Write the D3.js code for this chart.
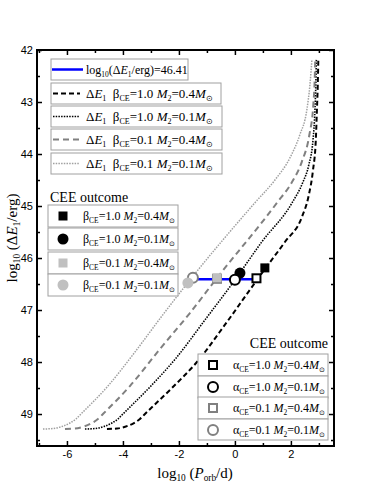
<!DOCTYPE html>
<html>
<head>
<meta charset="utf-8">
<script src="https://cdn.jsdelivr.net/npm/d3@7"></script>
<style>
	body { margin: 0; background: #fff; }
	svg text { font-family: "Liberation Serif", "Times New Roman", serif; white-space: pre; }
	.tick text { font-family: "Liberation Sans", Arial, sans-serif; }
</style>
</head>
<body>
<div id="svg-container"></div>
<script>
// DATA
// curves: [log10(Porb/d), log10(dE1/erg)]
const curveB10M04 = [[-4.571,49.288],[-4.214,49.279],[-3.893,49.24],[-3.607,49.173],[-3.393,49.096],[-3.214,49.0],[-2.25,48.5],[-1.357,48.0],[-0.286,47.231],[0.786,46.423],[1.071,46.212],[1.786,45.692],[2.393,45.212],[2.64,44.79],[2.79,44.31],[2.89,43.73],[2.93,43.15],[2.96,42.67],[2.98,42.19]];
const curveB10M01 = [[-5.357,49.288],[-5.0,49.279],[-4.679,49.24],[-4.393,49.173],[-4.179,49.096],[-4.0,49.0],[-3.036,48.481],[-2.071,47.904],[-1.071,47.192],[0.0,46.423],[0.96,45.69],[2.04,44.94],[2.43,44.54],[2.64,44.21],[2.79,43.73],[2.86,43.15],[2.89,42.67],[2.91,42.19]];
const curveB01M04 = [[-6.071,49.288],[-5.714,49.279],[-5.393,49.24],[-5.107,49.173],[-4.893,49.096],[-4.714,49.0],[-3.75,48.462],[-2.679,47.75],[-1.607,47.058],[-0.643,46.385],[1.5,44.94],[2.04,44.54],[2.39,44.15],[2.66,43.63],[2.8,43.06],[2.85,42.58],[2.87,42.19]];
const curveB01M01 = [[-6.857,49.288],[-6.5,49.279],[-6.179,49.24],[-5.893,49.173],[-5.679,49.096],[-5.5,49.0],[-4.536,48.462],[-3.571,47.808],[-2.607,47.115],[-1.607,46.423],[0.71,44.94],[1.43,44.5],[1.96,44.08],[2.32,43.63],[2.57,43.15],[2.68,42.67],[2.75,42.19]];

// outcome markers
const betaX = [1.07, 0.18, -0.64, -1.68];
const betaY = [46.19, 46.29, 46.38, 46.48];
const alphaX = [0.77, 0.0, -0.64, -1.5];
const alphaY = [46.39, 46.42, 46.4, 46.38];

// blue line log10(dE1/erg)=46.41
const blueLevel = 46.41;
const blueFrom = -1.5;
const blueTo = 0.77;

const xMajor = [-6, -4, -2, 0, 2];
const xMinor = [-7, -5, -3, -1, 1, 3];
const yMajor = [42, 43, 44, 45, 46, 47, 48, 49];
const yMinor = [42.5, 43.5, 44.5, 45.5, 46.5, 47.5, 48.5, 49.5];

const massLabels = ["0.4", "0.1", "0.4", "0.1"];
const ceLabels = ["1.0", "1.0", "0.1", "0.1"];


// GRAPH
function graphData() {
	const w = 372;
	const h = 496;
	const left = 37, right = 334, top = 50, bottom = 446;

	const xScale = d3.scaleLinear().domain([-7.07, 3.54]).range([left, right]);
	const yScale = d3.scaleLinear().domain([42, 49.615]).range([top, bottom]);

	const svg = d3.select("#svg-container").append("svg")
		.attr("width", w).attr("height", h);

	// rich text helper: segments [text, kind] kind: n, i, s
	function rich(sel, segs, size) {
		let sub = false;
		segs.forEach(([t, k]) => {
			const ts = sel.append("tspan").text(t);
			if (k === "i") ts.attr("font-style", "italic");
			if (k === "s") {
				ts.attr("font-size", size * 0.62);
				if (!sub) ts.attr("dy", size * 0.22);
				sub = true;
			} else {
				if (sub) ts.attr("dy", -size * 0.22);
				sub = false;
			}
		});
		return sel;
	}

	// axes (ticks inward on all sides)
	function axes(axisFn, scale, vals, size, tr, labels) {
		const a = axisFn(scale).tickValues(vals).tickSizeInner(-size).tickSizeOuter(0)
			.tickPadding(4).tickFormat(labels ? (d => String(d)) : "");
		const g = svg.append("g").attr("transform", tr).call(a);
		g.select(".domain").remove();
		g.selectAll(".tick line").attr("stroke-width", 1.5);
		g.selectAll(".tick text").attr("font-size", 11).attr("fill", "#000");
		return g;
	}
	axes(d3.axisBottom, xScale, xMajor, 5, `translate(0,${bottom})`, true);
	axes(d3.axisBottom, xScale, xMinor, 3, `translate(0,${bottom})`, false);
	axes(d3.axisTop, xScale, xMajor, 5, `translate(0,${top})`, false);
	axes(d3.axisTop, xScale, xMinor, 3, `translate(0,${top})`, false);
	axes(d3.axisLeft, yScale, yMajor, 5, `translate(${left},0)`, true);
	axes(d3.axisLeft, yScale, yMinor, 3, `translate(${left},0)`, false);
	axes(d3.axisRight, yScale, yMajor, 5, `translate(${right},0)`, false);
	axes(d3.axisRight, yScale, yMinor, 3, `translate(${right},0)`, false);

	svg.append("rect").attr("x", left).attr("y", top)
		.attr("width", right - left).attr("height", bottom - top)
		.attr("fill", "none").attr("stroke", "#000").attr("stroke-width", 2);

	// curves
	const styles = [
		{ data: curveB10M04, color: "#000", width: 2, dash: "5,3" },
		{ data: curveB10M01, color: "#000", width: 1.6, dash: "1.5,1.2" },
		{ data: curveB01M04, color: "#808080", width: 2, dash: "6,4" },
		{ data: curveB01M01, color: "#a0a0a0", width: 1.5, dash: "1.5,1.2" }
	];
	const line = d3.line().x(d => xScale(d[0])).y(d => yScale(d[1])).curve(d3.curveMonotoneX);
	svg.append("clipPath").attr("id", "clip").append("rect")
		.attr("x", left).attr("y", top).attr("width", right - left).attr("height", bottom - top);
	styles.forEach(s => {
		svg.append("path").attr("d", line(s.data)).attr("fill", "none")
			.attr("stroke", s.color).attr("stroke-width", s.width).attr("stroke-dasharray", s.dash)
			.attr("clip-path", "url(#clip)");
	});

	// blue line
	svg.append("line").attr("x1", xScale(blueFrom)).attr("x2", xScale(blueTo))
		.attr("y1", yScale(blueLevel)).attr("y2", yScale(blueLevel))
		.attr("stroke", "#0000ff").attr("stroke-width", 2.5);

	// markers
	const fillCol = ["#000", "#000", "#c0c0c0", "#c0c0c0"];
	const openCol = ["#000", "#000", "#808080", "#808080"];
	function marker(g, shape, cx, cy, filled, i) {
		if (shape === "sq") {
			const s = filled ? 9 : 8;
			g.append("rect").attr("x", cx - s / 2).attr("y", cy - s / 2).attr("width", s).attr("height", s)
				.attr("fill", filled ? fillCol[i] : "#fff")
				.attr("stroke", filled ? "none" : openCol[i]).attr("stroke-width", 2);
		} else {
			g.append("circle").attr("cx", cx).attr("cy", cy).attr("r", filled ? 5.5 : 5)
				.attr("fill", filled ? fillCol[i] : "#fff")
				.attr("stroke", filled ? "none" : openCol[i]).attr("stroke-width", 2);
		}
	}
	const shapes = ["sq", "ci", "sq", "ci"];
	const mg = svg.append("g");
	// draw order mimics overlaps in the figure
	marker(mg, "ci", xScale(alphaX[3]), yScale(alphaY[3]), false, 3);
	marker(mg, "sq", xScale(alphaX[2]), yScale(alphaY[2]), false, 2);
	marker(mg, "ci", xScale(betaX[3]), yScale(betaY[3]), true, 3);
	marker(mg, "sq", xScale(betaX[2]), yScale(betaY[2]), true, 2);
	marker(mg, "sq", xScale(betaX[0]), yScale(betaY[0]), true, 0);
	marker(mg, "ci", xScale(betaX[1]), yScale(betaY[1]), true, 1);
	marker(mg, "sq", xScale(alphaX[0]), yScale(alphaY[0]), false, 0);
	marker(mg, "ci", xScale(alphaX[1]), yScale(alphaY[1]), false, 1);

	// legend 1
	const boxStroke = "#a0a0a0";
	const l1 = svg.append("g");
	const l1Rows = [59, 83, 106, 129, 153];
	const l1W = [137, 170, 171, 171, 171];
	l1Rows.forEach((y, i) => {
		l1.append("rect").attr("x", 51).attr("y", y).attr("width", l1W[i]).attr("height", 21)
			.attr("fill", "#fff").attr("stroke", boxStroke).attr("stroke-width", 1);
		const t = l1.append("text").attr("x", 86).attr("y", y + 15).attr("font-size", i === 0 ? 12 : 13);
		if (i === 0) {
			l1.append("line").attr("x1", 52).attr("x2", 83).attr("y1", y + 10.5).attr("y2", y + 10.5)
				.attr("stroke", "#0000ff").attr("stroke-width", 2.5);
			rich(t, [["log", "n"], ["10", "s"], ["(Δ", "n"], ["E", "i"], ["1", "s"], ["/erg)=" + blueLevel, "n"]], 12);
		} else {
			const s = styles[i - 1];
			l1.append("line").attr("x1", 53).attr("x2", 80).attr("y1", y + 10.5).attr("y2", y + 10.5)
				.attr("stroke", s.color).attr("stroke-width", s.width).attr("stroke-dasharray", s.dash);
			rich(t, [["Δ", "n"], ["E", "i"], ["1", "s"], ["  β", "n"], ["CE", "s"], ["=" + ceLabels[i - 1] + " ", "n"],
				["M", "i"], ["2", "s"], ["=" + massLabels[i - 1], "n"], ["M", "i"], ["⊙", "s"]], 13);
		}
	});

	// legend 2 (beta)
	svg.append("text").attr("x", 50).attr("y", 202).attr("font-size", 14).text("CEE outcome");
	const l2Rows = [205, 228, 252, 274];
	l2Rows.forEach((y, i) => {
		svg.append("rect").attr("x", 48).attr("y", y).attr("width", 130).attr("height", 22)
			.attr("fill", "#fff").attr("stroke", boxStroke).attr("stroke-width", 1);
		marker(svg, shapes[i], 63, y + 11, true, i);
		const t = svg.append("text").attr("x", 83).attr("y", y + 15).attr("font-size", 12);
		rich(t, [["β", "n"], ["CE", "s"], ["=" + ceLabels[i] + " ", "n"], ["M", "i"], ["2", "s"],
			["=" + massLabels[i], "n"], ["M", "i"], ["⊙", "s"]], 12);
	});

	// legend 3 (alpha)
	svg.append("text").attr("x", 328).attr("y", 348).attr("font-size", 14)
		.attr("text-anchor", "end").text("CEE outcome");
	const l3Rows = [354, 376, 397, 419];
	l3Rows.forEach((y, i) => {
		svg.append("rect").attr("x", 198).attr("y", y).attr("width", 130).attr("height", i === 3 ? 21 : 22)
			.attr("fill", "#fff").attr("stroke", boxStroke).attr("stroke-width", 1);
		marker(svg, shapes[i], 213, y + 11, false, i);
		const t = svg.append("text").attr("x", 233).attr("y", y + 15).attr("font-size", 12);
		rich(t, [["α", "n"], ["CE", "s"], ["=" + ceLabels[i] + " ", "n"], ["M", "i"], ["2", "s"],
			["=" + massLabels[i], "n"], ["M", "i"], ["⊙", "s"]], 12);
	});

	// axis titles
	const xt = svg.append("text").attr("x", 195).attr("y", 478).attr("text-anchor", "middle").attr("font-size", 15);
	rich(xt, [["log", "n"], ["10", "s"], [" (", "n"], ["P", "i"], ["orb", "s"], ["/d)", "n"]], 15);
	const yt = svg.append("text").attr("transform", "translate(17,238) rotate(-90)")
		.attr("text-anchor", "middle").attr("font-size", 15);
	rich(yt, [["log", "n"], ["10", "s"], [" (Δ", "n"], ["E", "i"], ["1", "s"], ["/erg)", "n"]], 15);
}

document.addEventListener('DOMContentLoaded', () => {
	graphData();
});
</script>
</body>
</html>
